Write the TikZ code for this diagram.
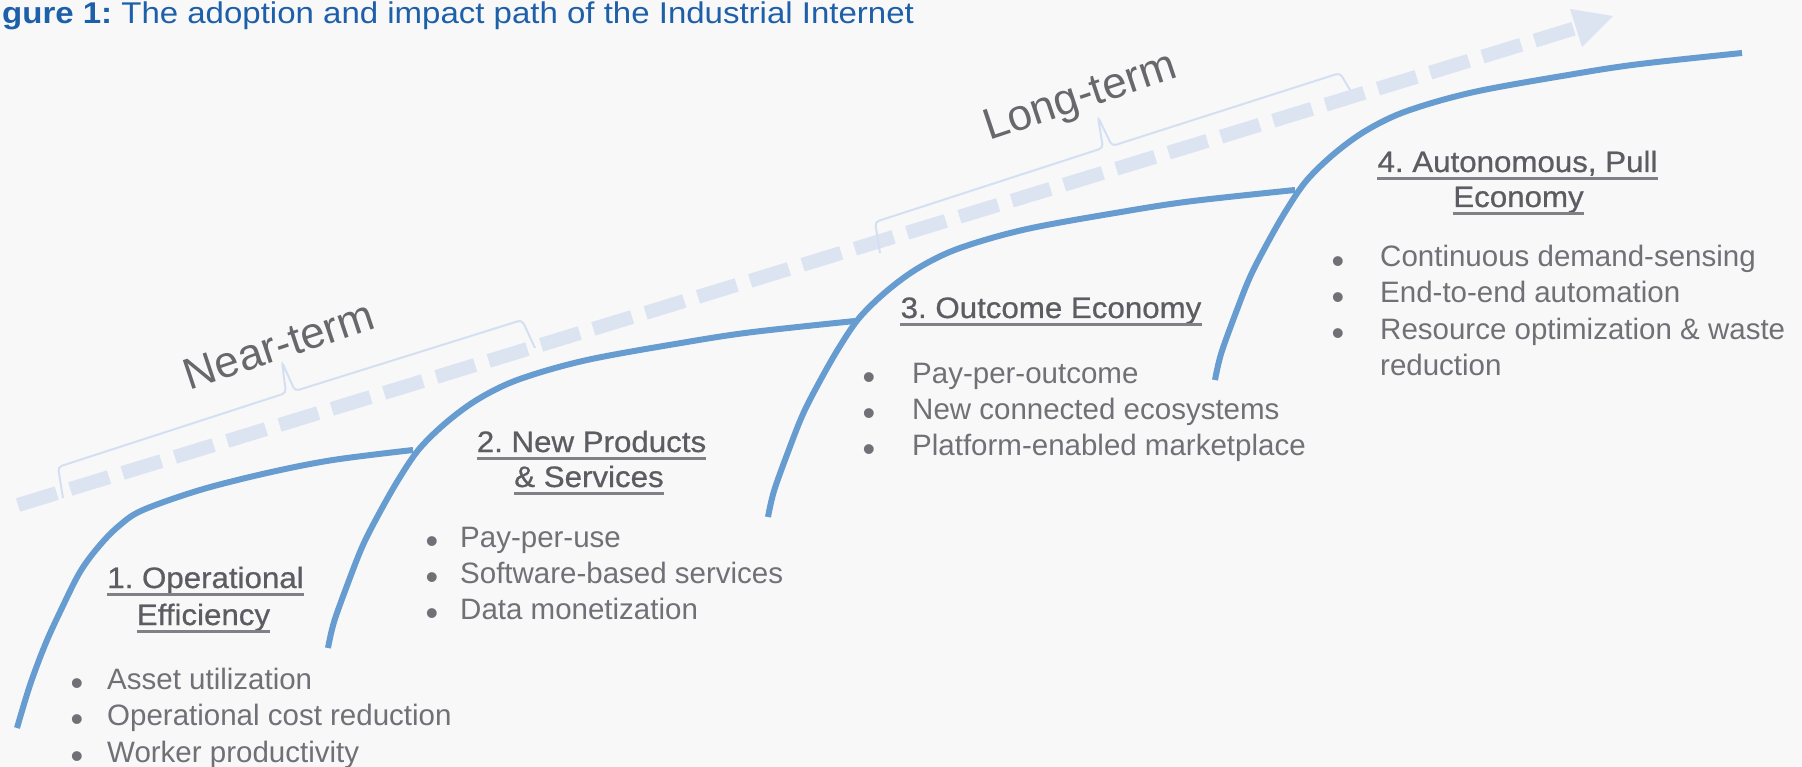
\documentclass[tikz,border=0pt]{standalone}
\usepackage{fontspec}
\setmainfont{Liberation Sans}
\newfontfamily\ttlfont[FakeBold=0.7,FakeStretch=1.06]{Liberation Sans}
\newfontfamily\capfont[FakeStretch=1.1]{Liberation Sans}
\definecolor{bg}{RGB}{248,248,248}
\definecolor{curveblue}{RGB}{102,156,208}
\definecolor{dashblue}{RGB}{220,228,242}
\definecolor{bracketblue}{RGB}{212,224,242}
\definecolor{bullgray}{RGB}{112,112,118}
\definecolor{ttlgray}{RGB}{92,92,98}
\definecolor{ulgray}{RGB}{128,128,134}
\definecolor{termgray}{RGB}{104,104,108}
\definecolor{captionblue}{RGB}{30,95,170}
\frenchspacing
\begin{document}
\begin{tikzpicture}[x=1pt,y=-1pt,
  bl/.style={anchor=base west, inner sep=0pt, text=bullgray, font=\fontsize{29.5}{35}\selectfont},
  bdot/.style={anchor=base, inner sep=0pt, yshift=-6.5pt, text=bullgray, font=\fontsize{36}{36}\selectfont},
  ttl/.style={anchor=base, inner sep=0pt, text=ttlgray, font=\ttlfont\fontsize{29.5}{35}\selectfont},
  ulline/.style={draw=ulgray, line width=2.5pt},
  curve/.style={draw=curveblue, line width=6pt},
  brk/.style={draw=bracketblue, line width=2pt, rounded corners=4pt},
  term/.style={inner sep=0pt, rotate=18.5, text=termgray, font=\fontsize{44}{50}\selectfont}]
\fill[bg] (0,0) rectangle (1802,767);
\useasboundingbox (0,0) rectangle (1802,767);

% caption
\node[anchor=base west, inner sep=0pt, text=captionblue, font=\capfont\fontsize{30}{36}\selectfont] (cap) at (2,24) {\textbf{gure 1:} The adoption and impact path of the Industrial Internet};

% dashed arrow
\coordinate (arrS) at (18,505);
\coordinate (arrB) at (1576,28);
\coordinate (arrT) at (1613,16);
\coordinate (arrL) at (1570,9);
\coordinate (arrR) at (1582,47);
\draw[dashblue, line width=14pt, dash pattern=on 40.5pt off 14.2pt] (arrS) -- (arrB);
\fill[dashblue] (arrT) -- (arrL) -- (arrR) -- cycle;

% brackets
\draw[brk] (63,498) -- (58,467) -- (286,393) -- (282,362) -- (295,391) -- (522,320) -- (535,348);
\draw[brk] (880,253) -- (875,222) -- (1103,148) -- (1098,117) -- (1112,146) -- (1340,73) -- (1350,90);

\node[term] (near) at (279,345) {Near-term};
\node[term] (long) at (1081,99) {Long-term};

% curves
\draw[curve] plot[smooth, tension=0.55] coordinates {(17,728) (30,685) (45,645) (60,612) (80,572) (100,545) (120,525) (143,510) (200,490) (267,473) (333,460) (413,450)};
\foreach \dx/\dy in {0/0, 440/-131, 887/-268}{
  \draw[curve, shift={(\dx,\dy)}] plot[smooth, tension=0.55] coordinates {(328,648) (334,622) (348,583) (363,545) (381,510) (400,477) (420,448) (448,421) (480,398) (520,379) (587,360) (687,342) (753,332) (855,321)};
}

% stage 1
\node[ttl] (t1a) at (205.5,588) {1. Operational};
\node[ttl] (t1b) at (203.5,625) {Efficiency};
\draw[ulline] ([yshift=-6.5pt]t1a.base west) -- ([yshift=-6.5pt]t1a.base east);
\draw[ulline] ([yshift=-6.5pt]t1b.base west) -- ([yshift=-6.5pt]t1b.base east);
\node[bdot] (d1a) at (77,689) {\smash{•}};
\node[bdot] (d1b) at (77,725) {\smash{•}};
\node[bdot] (d1c) at (77,762) {\smash{•}};
\node[bl] (b1a) at (107,689) {Asset utilization};
\node[bl] (b1b) at (107,725) {Operational cost reduction};
\node[bl] (b1c) at (107,762) {Worker productivity};

% stage 2
\node[ttl] (t2a) at (591.5,452) {2. New Products};
\node[ttl] (t2b) at (589,487) {\& Services};
\draw[ulline] ([yshift=-6.5pt]t2a.base west) -- ([yshift=-6.5pt]t2a.base east);
\draw[ulline] ([yshift=-6.5pt]t2b.base west) -- ([yshift=-6.5pt]t2b.base east);
\node[bdot] (d2a) at (432,547) {\smash{•}};
\node[bdot] (d2b) at (432,583) {\smash{•}};
\node[bdot] (d2c) at (432,619) {\smash{•}};
\node[bl] (b2a) at (460,547) {Pay-per-use};
\node[bl] (b2b) at (460,583) {Software-based services};
\node[bl] (b2c) at (460,619) {Data monetization};

% stage 3
\node[ttl] (t3a) at (1051,318) {3. Outcome Economy};
\draw[ulline] ([yshift=-6.5pt]t3a.base west) -- ([yshift=-6.5pt]t3a.base east);
\node[bdot] (d3a) at (869,383) {\smash{•}};
\node[bdot] (d3b) at (869,419) {\smash{•}};
\node[bdot] (d3c) at (869,455) {\smash{•}};
\node[bl] (b3a) at (912,383) {Pay-per-outcome};
\node[bl] (b3b) at (912,419) {New connected ecosystems};
\node[bl] (b3c) at (912,455) {Platform-enabled marketplace};

% stage 4
\node[ttl] (t4a) at (1517.5,172) {4. Autonomous, Pull};
\node[ttl] (t4b) at (1518.5,207) {Economy};
\draw[ulline] ([yshift=-6.5pt]t4a.base west) -- ([yshift=-6.5pt]t4a.base east);
\draw[ulline] ([yshift=-6.5pt]t4b.base west) -- ([yshift=-6.5pt]t4b.base east);
\node[bdot] (d4a) at (1338,267) {\smash{•}};
\node[bdot] (d4b) at (1338,303) {\smash{•}};
\node[bdot] (d4c) at (1338,339) {\smash{•}};
\node[bl] (b4a) at (1380,267) {Continuous demand-sensing};
\node[bl] (b4b) at (1380,303) {End-to-end automation};
\node[bl] (b4c) at (1380,339) {Resource optimization \& waste};
\node[bl] (b4d) at (1380,375) {reduction};
\end{tikzpicture}
\end{document}
